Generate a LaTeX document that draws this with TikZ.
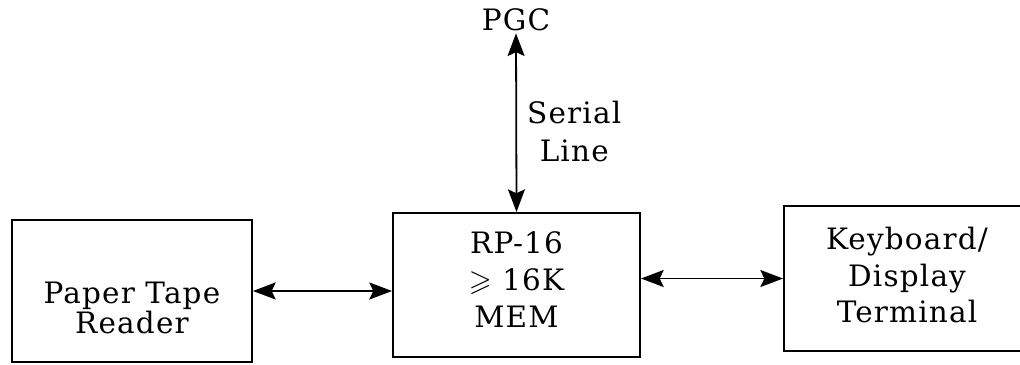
\documentclass[tikz,border=0pt]{standalone}
\usepackage{amssymb}
\usepackage{fontspec}
\setmainfont{DejaVu Serif}[LetterSpace=4]
\usetikzlibrary{arrows.meta, positioning}

\begin{document}
\begin{tikzpicture}[
        box/.style={rectangle, draw=black, line width=1pt,
                    minimum width=4.3cm, minimum height=2.54cm, inner sep=0pt},
        txt/.style={align=center, font=\fontsize{14.8}{18.5}\selectfont},
        arrow/.style={{Stealth[length=4mm, width=3mm, inset=0.7mm]}-{Stealth[length=4mm, width=3mm, inset=0.7mm]}, line width=0.9pt},
    ]
    \useasboundingbox (0,0) rectangle (18,-6.424);

    % ====== blocks ======
    \node[box, minimum width=4.235cm, minimum height=2.506cm] (ptr) at (2.329, -5.135) {};
    \node[txt, font=\fontsize{14.8}{13.8}\selectfont] at (ptr) [yshift=-0.3cm] {Paper Tape\\Reader};

    \node[box, minimum width=4.359cm, minimum height=2.541cm] (mem) at (9.115, -5.029) {};
    \node[txt] at (mem) [yshift=0.1cm] {RP-16\\$\geqslant$ 16K\\MEM};

    \node[box, minimum width=4.341cm, minimum height=2.559cm] (kbd) at (16.006, -4.915) {};
    \node[txt] at (kbd) [yshift=0.06cm] {Keyboard/\\Display\\Terminal};

    \node[txt, inner sep=1pt] (pgc) at (9.106, -0.35) {PGC};

    % ====== links ======
    \draw[arrow] (pgc.south) -- (mem.north)
        node[pos=0.55, right=0.06cm, txt, font=\fontsize{14.8}{19}\selectfont] {Serial\\Line};
    \draw[arrow] (ptr.east) -- (ptr.east -| mem.west);
    \draw[arrow] (mem.east |- kbd.west) -- (kbd.west);

\end{tikzpicture}
\end{document}
